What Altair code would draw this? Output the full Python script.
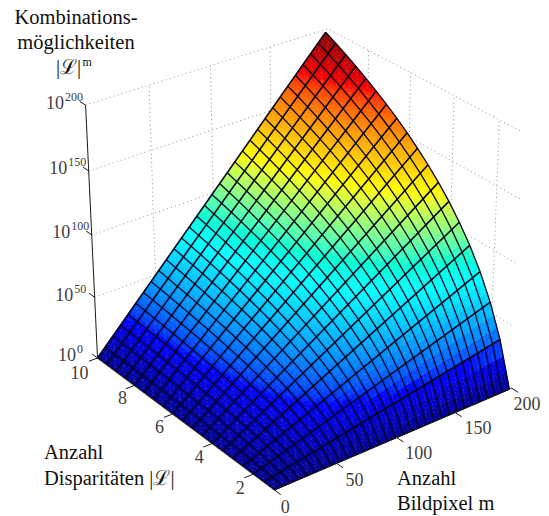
import math
import numpy as np
import altair as alt

# ---- data ----
L_grid = [1, 1.5, 2, 2.5, 3, 3.5, 4, 4.5, 5, 5.5, 6, 6.5, 7, 7.5, 8, 8.5, 9, 9.5, 10]
m_grid = [0, 6.6, 13.2, 19.8, 26.4, 33, 39.6, 46.2, 52.8, 59.4, 66, 72.6, 79.2, 85.8, 92.4, 99,
          105.6, 112.2, 118.8, 125.4, 132, 138.6, 145.2, 151.8, 158.4, 165, 171.6, 178.2, 184.8, 191.4, 198]
L_ticks = [2, 4, 6, 8, 10]
m_ticks = [0, 50, 100, 150, 200]
z_ticks = [0, 50, 100, 150, 200]
z_sup = ["0", "50", "100", "150", "200"]
jet_stops = ["#00008f", "#0000ff", "#00ffff", "#ffff00", "#ff0000", "#800000"]
jet_pos = [0, 0.125, 0.375, 0.625, 0.875, 1]

# ---- camera: fitted to the axis box corners seen in the figure ----
box = [((1, 0, 0), (275.5, 490)), ((10, 0, 0), (97, 357)), ((1, 200, 0), (511, 389)),
       ((10, 0, 200), (85, 106)), ((1, 200, 200), (522, 131)), ((10, 200, 200), (329, 29))]
A = []
for (p, (u, v)) in box:
    X = [p[0], p[1], p[2], 1]
    A.append(X + [0] * 4 + [-u * c for c in X])
    A.append([0] * 4 + X + [-v * c for c in X])
P = np.linalg.svd(np.array(A, float))[2][-1].reshape(3, 4)


def proj(L, m, z):
    h = P @ np.array([L, m, z, 1.0])
    return [float(h[0] / h[2] - 8), float(h[1] / h[2] - 8)]


def Z(L, m):
    return m * math.log10(L)


def feat(geom, **props):
    return {"type": "Feature", "geometry": geom, "properties": props}


def lines(segs):
    return {"type": "MultiLineString", "coordinates": segs}


# ---- surface facets ----
N = 3
facets = []
diag = []
for i in range(len(L_grid) - 2, -1, -1):
    for j in range(len(m_grid) - 2, -1, -1):
        L0, L1, m0, m1 = L_grid[i], L_grid[i + 1], m_grid[j], m_grid[j + 1]
        z00, z01, z10, z11 = Z(L0, m0), Z(L0, m1), Z(L1, m0), Z(L1, m1)

        def pt(a, b):
            zz = (1 - a) * (1 - b) * z00 + (1 - a) * b * z01 + a * (1 - b) * z10 + a * b * z11
            return zz, proj(L0 + a * (L1 - L0), m0 + b * (m1 - m0), zz)

        for a in range(N):
            for b in range(N):
                corners = [pt(a / N, b / N), pt((a + 1) / N, b / N),
                           pt((a + 1) / N, (b + 1) / N), pt(a / N, (b + 1) / N)]
                ring = [c[1] for c in corners] + [corners[0][1]]
                facets.append(feat({"type": "Polygon", "coordinates": [ring]},
                                   z=sum(c[0] for c in corners) / 4))
        diag.append([proj(L0 + 0.2 * (L1 - L0), m0 + 0.2 * (m1 - m0), z00 + 0.2 * (z11 - z00)),
                     proj(L0 + 0.8 * (L1 - L0), m0 + 0.8 * (m1 - m0), z00 + 0.8 * (z11 - z00))])

L_lines = [[proj(L, m, Z(L, m)) for m in (m_grid[0], m_grid[-1])] for L in L_grid]
m_lines = [[proj(L, m, Z(L, m)) for L in L_grid] for m in m_grid]

# ---- box ----
dotted = []
for z in z_ticks[1:]:
    dotted.append([proj(10, 0, z), proj(10, 200, z), proj(1, 200, z)])
for m in m_ticks[1:-1]:
    dotted.append([proj(10, m, 0), proj(10, m, 200)])
for L in L_ticks[:-1]:
    dotted.append([proj(L, 200, 0), proj(L, 200, 200)])

axes = [[proj(10, 0, 0), proj(10, 0, 200)],
        [proj(10, 0, 0), proj(1, 0, 0)],
        [proj(1, 0, 0), proj(1, 200, 0)]]
for z in z_ticks:
    axes.append([proj(10, 0, z), proj(10.3, 0, z)])
for L in L_ticks:
    axes.append([proj(L, 0, 0), proj(L, -7, 0)])
for m in m_ticks:
    axes.append([proj(1, m, 0), proj(0.7, m, 0)])
pale_edge = [[[a + 0.6, b + 1.0] for a, b in [proj(10, 0, 0), proj(1, 0, 0)]]]

# ---- tick labels, anchored on the projected axes ----
SERIF = "Liberation Serif"
tick_rows = []
for L, (dx, dy) in zip(L_ticks, [(-13, 20), (-13, 20), (-13, 19), (-12, 19), (-18, 21)]):
    x, y = proj(L, 0, 0)
    tick_rows.append({"t": str(L), "x": x + dx, "y": y + dy})
for m, (dx, dy) in zip(m_ticks, [(11, 23), (18, 23), (22, 22), (23, 22), (15.5, 22)]):
    x, y = proj(1, m, 0)
    tick_rows.append({"t": str(m), "x": x + dx, "y": y + dy})
ten_rows = []
sup_rows = []
for z, s in zip(z_ticks, z_sup):
    x, y = proj(10, 0, z)
    ten_rows.append({"t": "10", "x": x - 21.5, "y": y + 3.5})
    sup_rows.append({"t": s, "x": x - 20.5, "y": y - 4.5})

title_center = [{"t": "Kombinations-", "x": 68, "y": 16}, {"t": "möglichkeiten", "x": 68, "y": 41},
                {"t": "|ℒ|", "x": 60.5, "y": 66}]
title_left = [{"t": "Anzahl", "x": 36, "y": 451}, {"t": "Disparitäten |ℒ|", "x": 36, "y": 477},
              {"t": "Anzahl", "x": 389, "y": 477}, {"t": "Bildpixel m", "x": 389, "y": 502}]
title_sup = [{"t": "m", "x": 74.5, "y": 58}]

identity = dict(type="identity", scale=1, translate=[0, 0])


def geo_layer(features, **mark):
    return alt.Chart(alt.Data(values=features)).mark_geoshape(filled=False, **mark).project(**identity)


def text_layer(rows, fontSize, **mark):
    return alt.Chart(alt.Data(values=rows)).mark_text(font=SERIF, baseline="alphabetic", fontSize=fontSize,
                                                      **mark).encode(
        longitude="x:Q", latitude="y:Q", text="t:N").project(**identity)


jet = alt.Scale(domain=[p * Z(10, m_grid[-1]) for p in jet_pos], range=jet_stops)
surface = alt.Chart(alt.Data(values=facets)).mark_geoshape(strokeWidth=0.5).encode(
    color=alt.Color("properties.z:Q", scale=jet, legend=None),
    stroke=alt.Color("properties.z:Q", scale=jet, legend=None),
).project(**identity)

chart = alt.layer(
    geo_layer([feat(lines(dotted))], stroke="#8c8c8c", strokeWidth=1, strokeDash=[1, 3.2]),
    surface,
    geo_layer([feat(lines(diag))], stroke="#ffffff", strokeOpacity=0.22, strokeWidth=0.6, strokeDash=[2, 2]),
    geo_layer([feat(lines(L_lines))], stroke="#05051e", strokeWidth=1.6),
    geo_layer([feat(lines(m_lines))], stroke="#05051e", strokeWidth=1.3),
    geo_layer([feat(lines(pale_edge))], stroke="#d8d4c0", strokeWidth=1),
    geo_layer([feat(lines(axes))], stroke="#1a1a1a", strokeWidth=1),
    text_layer(tick_rows, 18, color="#404040", align="center"),
    text_layer(ten_rows, 18, color="#404040", align="right"),
    text_layer(sup_rows, 12, color="#404040", align="left"),
    text_layer(title_center, 20.5, color="#111111", align="center"),
    text_layer(title_left, 20.5, color="#111111", align="left"),
    text_layer(title_sup, 12, color="#111111", align="left"),
).properties(width=533, height=507, padding=0, autosize=alt.AutoSizeParams(type="none")).configure_view(stroke=None)

chart.save("out.html", embed_options={"renderer": "svg", "actions": False})
